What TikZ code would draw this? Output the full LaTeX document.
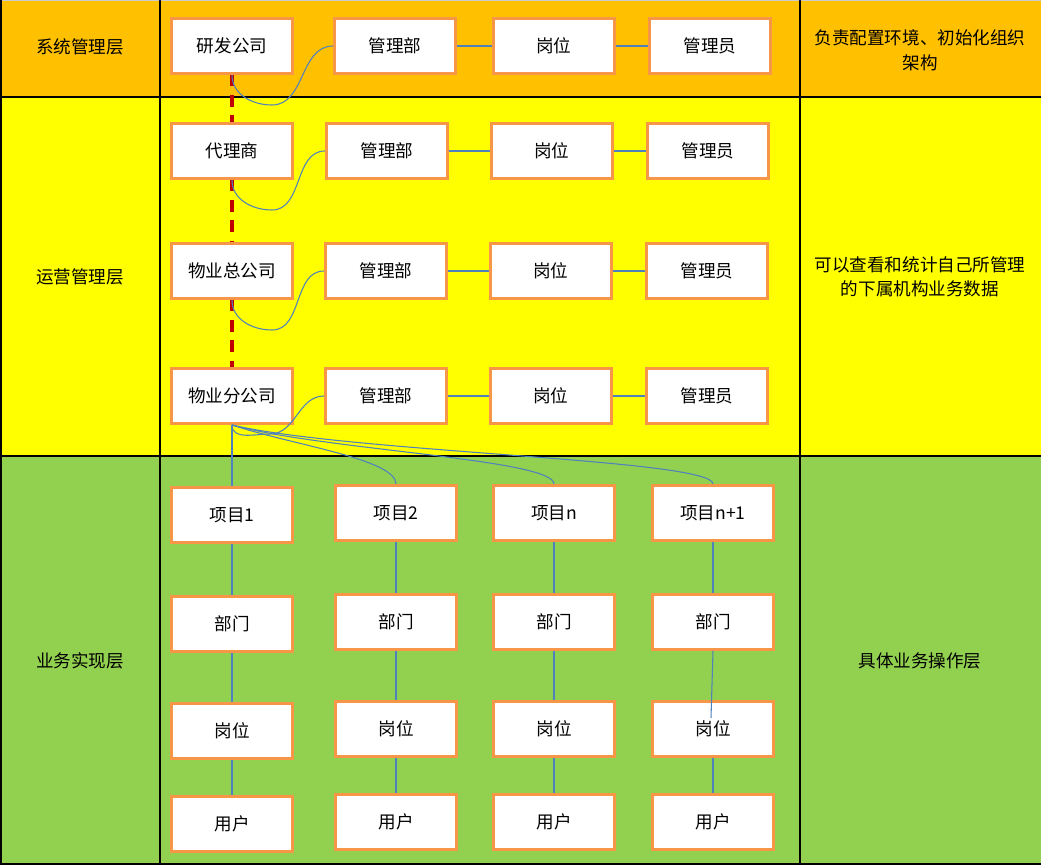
\documentclass[tikz,border=0pt]{standalone}
\usepackage{fontspec}
\setmainfont{Noto Sans CJK SC}
\usepackage{tikz}
\usepackage{xcolor}
\usetikzlibrary{positioning}

\definecolor{sysband}{HTML}{FFC000}
\definecolor{opband}{HTML}{FFFF00}
\definecolor{bizband}{HTML}{92D050}
\definecolor{boxline}{HTML}{F79646}
\definecolor{linkblue}{HTML}{4F81BD}
\definecolor{rootred}{HTML}{C00000}

\begin{document}
\begin{tikzpicture}[x=0.02cm, y=0.02cm,
    box/.style={draw=boxline, line width=1.7pt, fill=white, rectangle,
        minimum width=2.42cm, minimum height=1.1cm, inner sep=0pt,
        font=\fontsize{10}{12}\selectfont},
    layer/.style={font=\fontsize{10}{12}\selectfont},
    note/.style={align=center, font=\fontsize{10}{14}\selectfont},
    link/.style={draw=linkblue, line width=0.6pt},
    rootline/.style={draw=rootred, line width=2pt, dash pattern=on 6.5pt off 5pt},
    grid/.style={draw=black, line width=1.1pt}]
    \useasboundingbox (0,0) rectangle (1041,-865);

    % bands
    \fill[sysband] (0,0) rectangle (1041,-97);
    \fill[opband] (0,-97) rectangle (1041,-456);
    \fill[bizband] (0,-456) rectangle (1041,-865);
    \draw[black!20, line width=1pt] (0,-0.5) -- (1041,-0.5);
    \draw[grid] (0,-97) -- (1041,-97);
    \draw[grid] (0,-456) -- (1041,-456);
    \draw[grid] (0,-864) -- (1041,-864);
    \draw[grid] (1,0) -- (1,-864);
    \draw[grid] (160,0) -- (160,-864);
    \draw[grid] (800,0) -- (800,-864);

    % layer names
    \node[layer] (sys) at (80,-47) {系统管理层};
    \node[layer] (ops) at (80,-277) {运营管理层};
    \node[layer] (biz) at (80,-661) {业务实现层};

    \node[note] (n1) at (920,-50) {负责配置环境、初始化组织\\架构};
    \node[note] (n2) at (920,-277) {可以查看和统计自己所管理\\的下属机构业务数据};
    \node[note] (n3) at (920,-661) {具体业务操作层};

    % system level
    \node[box] (yf) at (232,-46) {研发公司};
    \node[box, right=0.78cm of yf] (gb1) {管理部};
    \node[box, right=0.70cm of gb1] (gw1) {岗位};
    \node[box, right=0.64cm of gw1] (gy1) {管理员};

    % operation level
    \node[box] (dl) at (232,-151) {代理商};
    \node[box, right=0.62cm of dl] (gb2) {管理部};
    \node[box, right=0.82cm of gb2] (gw2) {岗位};
    \node[box, right=0.64cm of gw2] (gy2) {管理员};

    \node[box] (wz) at (232,-271) {物业总公司};
    \node[box, right=0.60cm of wz] (gb3) {管理部};
    \node[box, right=0.82cm of gb3] (gw3) {岗位};
    \node[box, right=0.64cm of gw3] (gy3) {管理员};

    \node[box] (wf) at (232,-396) {物业分公司};
    \node[box, right=0.60cm of wf] (gb4) {管理部};
    \node[box, right=0.82cm of gb4] (gw4) {岗位};
    \node[box, right=0.64cm of gw4] (gy4) {管理员};

    % business level
    \node[box] (xm1) at (232,-515) {项目1};
    \node[box, below=1.02cm of xm1] (bm1) {部门};
    \node[box, below=0.98cm of bm1] (pw1) {岗位};
    \node[box, below=0.70cm of pw1] (yh1) {用户};

    \node[box] (xm2) at (396,-513) {项目2};
    \node[box, below=1.02cm of xm2] (bm2) {部门};
    \node[box, below=0.98cm of bm2] (pw2) {岗位};
    \node[box, below=0.70cm of pw2] (yh2) {用户};

    \node[box] (xm3) at (554,-513) {项目n};
    \node[box, below=1.02cm of xm3] (bm3) {部门};
    \node[box, below=0.98cm of bm3] (pw3) {岗位};
    \node[box, below=0.70cm of pw3] (yh3) {用户};

    \node[box] (xm4) at (713,-513) {项目n+1};
    \node[box, below=1.02cm of xm4] (bm4) {部门};
    \node[box, below=0.98cm of bm4] (pw4) {岗位};
    \node[box, below=0.70cm of pw4] (yh4) {用户};

    % dashed chain of companies
    \draw[rootline] (yf.south) -- (dl.north);
    \draw[rootline] (dl.south) -- (wz.north);
    \draw[rootline] (wz.south) -- (wf.north);

    % company to department
    \coordinate (dip1) at (272,-105);
    \coordinate (dip2) at (272,-210);
    \coordinate (dip3) at (272,-330);
    \coordinate (dip4) at (270,-434);
    \draw[link] (yf.south) to[out=-90,in=180] (dip1) to[out=0,in=180] (gb1.west);
    \draw[link] (dl.south) to[out=-90,in=180] (dip2) to[out=0,in=180] (gb2.west);
    \draw[link] (wz.south) to[out=-90,in=180] (dip3) to[out=0,in=180] (gb3.west);
    \draw[link] (wf.south) to[out=-90,in=180] (dip4) to[out=0,in=180] (gb4.west);

    \draw[link] (gb1) -- (gw1);
    \draw[link] (gw1) -- (gy1);
    \draw[link] (gb2) -- (gw2);
    \draw[link] (gw2) -- (gy2);
    \draw[link] (gb3) -- (gw3);
    \draw[link] (gw3) -- (gy3);
    \draw[link] (gb4) -- (gw4);
    \draw[link] (gw4) -- (gy4);

    % branch to projects
    \draw[link] (wf.south) -- (xm1.north);
    \draw[link] (wf.south) .. controls +(60,-20) and +(0,25) .. (xm2.north);
    \draw[link] (wf.south) .. controls +(90,-25) and +(0,25) .. (xm3.north);
    \draw[link] (wf.south) .. controls +(120,-28) and +(0,25) .. (xm4.north);

    \draw[link] (xm1) -- (bm1);
    \draw[link] (bm1) -- (pw1);
    \draw[link] (pw1) -- (yh1);
    \draw[link] (xm2) -- (bm2);
    \draw[link] (bm2) -- (pw2);
    \draw[link] (pw2) -- (yh2);
    \draw[link] (xm3) -- (bm3);
    \draw[link] (bm3) -- (pw3);
    \draw[link] (pw3) -- (yh3);
    \draw[link] (xm4) -- (bm4);
    \coordinate (pw4in) at ([shift={(-2,-18)}]pw4.north);
    \draw[link] (bm4.south) -- (pw4in);
    \draw[link] (pw4) -- (yh4);
\end{tikzpicture}
\end{document}
